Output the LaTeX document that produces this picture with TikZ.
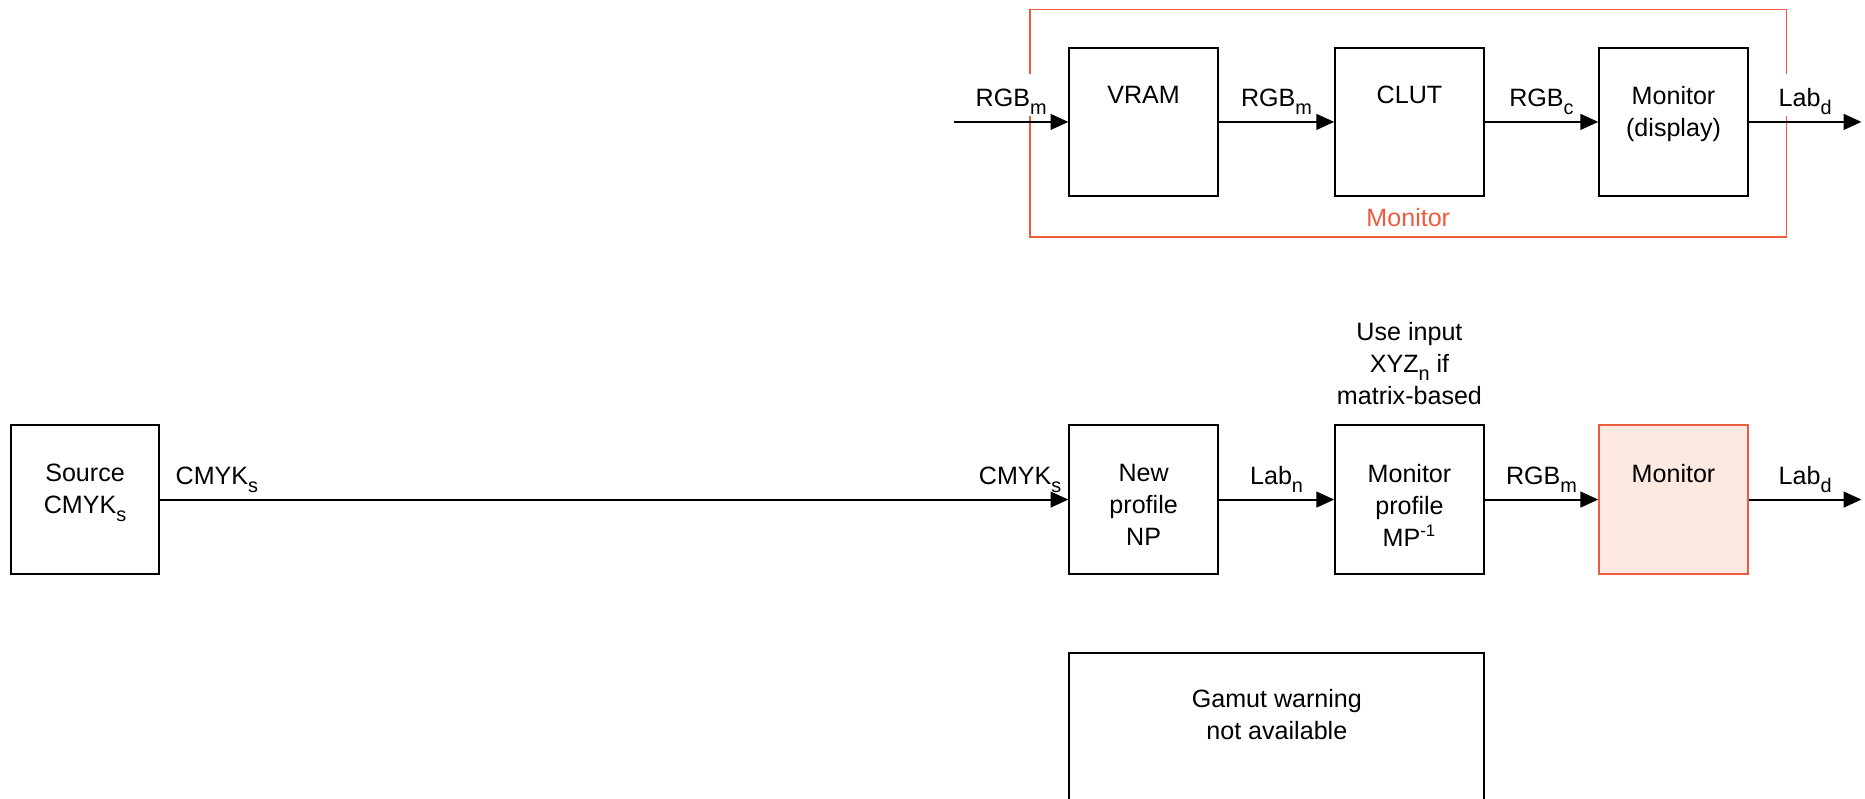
\documentclass[tikz,border=0pt]{standalone}
\usepackage{fontspec}
\setmainfont{Liberation Sans}
\usetikzlibrary{arrows.meta, positioning}
\definecolor{monred}{HTML}{EE5B3F}
\definecolor{monpink}{HTML}{FCE9E1}
\newcommand{\lsub}[1]{\raisebox{-0.32em}{\fontsize{9.5}{10}\selectfont #1}}

\begin{document}
\begin{tikzpicture}[
    block/.style={draw, line width=0.9pt, minimum width=2.5cm, minimum height=2.5cm, inner sep=0pt},
    blocktext/.style={anchor=north, align=center, inner sep=0pt, font=\fontsize{12}{15.3}\selectfont},
    lbl/.style={anchor=base, inner sep=0pt, yshift=0.26cm, font=\fontsize{12}{15.3}\selectfont},
    toplbl/.style={lbl, fill=white, text height=0.55cm, text depth=0.16cm},
    arrow/.style={-{Triangle[length=8.5pt, width=7.5pt]}, line width=1pt},
    >=Triangle
]
\useasboundingbox (0,0) rectangle (31.36,-13.42);

% Monitor chain (top)
\node[draw=monred, line width=0.9pt, minimum width=12.72cm, minimum height=3.82cm, inner sep=0pt] (monframe) at (23.68,-2.07) {};
\node[text=monred, font=\fontsize{12}{15.3}\selectfont, inner sep=0pt] (monframelbl) at (23.68,-3.66) {Monitor};
\node[block] (vram) at (19.23,-2.05) {};
\node[blocktext] (vramtxt) at ([yshift=-0.66cm]vram.north) {VRAM};
\node[block] (clut) at (23.70,-2.05) {};
\node[blocktext] (cluttxt) at ([yshift=-0.66cm]clut.north) {CLUT};
\node[block] (disp) at (28.14,-2.05) {};
\node[blocktext] (disptxt) at ([yshift=-0.66cm]disp.north) {Monitor\\(display)};
\coordinate (rgbin) at (16.04,-2.05);
\coordinate (labout) at (31.30,-2.05);

\draw[arrow] (rgbin) -- (vram) node[toplbl, midway] {RGB\lsub{m}};
\draw[arrow] (vram) -- (clut) node[lbl, midway] {RGB\lsub{m}};
\draw[arrow] (clut) -- (disp) node[lbl, midway] {RGB\lsub{c}};
\draw[arrow] (disp) -- (labout) node[toplbl, midway] {Lab\lsub{d}};

% Soft proof chain (middle)
\node[block] (source) at (1.43,-8.40) {};
\node[blocktext] (sourcetxt) at ([yshift=-0.66cm]source.north) {Source\\CMYK\lsub{s}};
\node[block] (np) at (19.23,-8.40) {};
\node[blocktext] (nptxt) at ([yshift=-0.66cm]np.north) {New\\profile\\NP};
\node[block] (mp) at (23.70,-8.40) {};
\node[blocktext] (mptxt) at ([yshift=-0.66cm]mp.north) {Monitor\\profile\\MP\textsuperscript{-1}};
\node[block, draw=monred, fill=monpink] (mon) at (28.14,-8.40) {};
\node[blocktext] (montxt) at ([yshift=-0.66cm]mon.north) {Monitor};
\node[blocktext, above=0.32cm of mp] (note) {Use input\\XYZ\lsub{n} if\\matrix-based};
\coordinate (labout2) at (31.30,-8.40);

\draw[arrow] (source) -- (np)
    node[lbl, pos=0, anchor=base west, xshift=0.24cm] {CMYK\lsub{s}}
    node[lbl, pos=1, anchor=base east, xshift=-0.1cm] {CMYK\lsub{s}};
\draw[arrow] (np) -- (mp) node[lbl, midway] {Lab\lsub{n}};
\draw[arrow] (mp) -- (mon) node[lbl, midway] {RGB\lsub{m}};
\draw[arrow] (mon) -- (labout2) node[lbl, midway] {Lab\lsub{d}};

% Gamut warning (bottom)
\node[draw, line width=0.9pt, minimum width=6.98cm, minimum height=3cm, anchor=north] (gamut) at (21.47,-10.96) {};
\node[blocktext] (gamuttxt) at ([yshift=-0.62cm]gamut.north) {Gamut warning\\not available};

\end{tikzpicture}
\end{document}
